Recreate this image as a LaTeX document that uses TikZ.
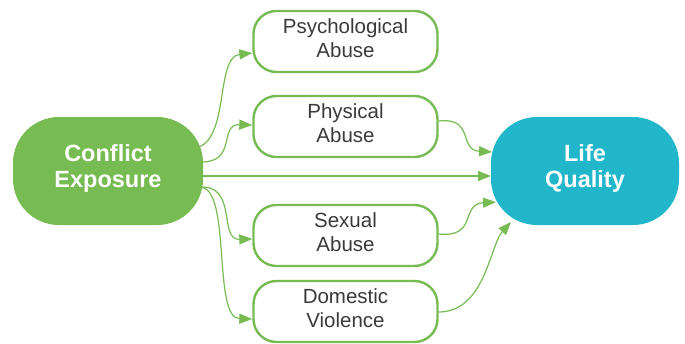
\documentclass[tikz,border=0pt]{standalone}
\usepackage{fontspec}
\setmainfont{Liberation Sans}
\usetikzlibrary{arrows.meta,calc}
\definecolor{cgreen}{HTML}{77BB53}
\definecolor{cteal}{HTML}{21B6CA}
\definecolor{ctext}{HTML}{3A3A3A}
\tikzset{
  bigbox/.style={rounded corners=46pt, minimum width=190pt, minimum height=108pt, text=white, align=center, inner sep=0pt, text depth=10pt, font=\fontsize{23.5}{26}\selectfont\bfseries},
  smallbox/.style={draw=cgreen, line width=2.4pt, rounded corners=23pt, minimum width=184pt, minimum height=61pt, text=ctext, align=center, inner sep=0pt, text depth=6pt, font=\fontsize{20.5}{24}\selectfont},
  conn/.style={draw=cgreen, line width=1.2pt, -{Triangle[length=13pt,width=10pt]}}
}
\begin{document}
\begin{tikzpicture}[x=1pt,y=-1pt]
\useasboundingbox (0,0) rectangle (685,343);
\node[bigbox, fill=cgreen] (ce) at (108,171) {Conflict\\Exposure};
\node[bigbox, fill=cteal, minimum width=188pt] (lq) at (585,171) {Life\\Quality};
\node[smallbox] (psy) at (345.5,41.5) {Psychological\\Abuse};
\node[smallbox] (phy) at (345.5,126.5) {Physical\\Abuse};
\node[smallbox] (sex) at (345.5,235.5) {Sexual\\Abuse};
\node[smallbox] (dom) at (345.5,311.5) {Domestic\\Violence};
% start points on Conflict Exposure
\coordinate (c1) at (196,148);
\coordinate (c2) at (200,162);
\coordinate (c3) at (202,176);
\coordinate (c4) at (200,187);
% end points on Life Quality
\coordinate (l1) at (492,152);
\coordinate (l2) at (491,176);
\coordinate (l3) at (496,202);
\coordinate (l4) at (511,222);
\draw[conn] (c1) .. controls (230,140) and (215,57) .. ([yshift=-11.5pt]psy.west);
\draw[conn] (c2) .. controls (238,163) and (218,124) .. ([yshift=1.5pt]phy.west);
\draw[conn] (c3) -- (l2);
\draw[conn] (c4) .. controls (238,185) and (218,240) .. ([yshift=-3.5pt]sex.west);
\draw[conn] (c4) .. controls (232,188) and (212,318) .. ([yshift=-7.5pt]dom.west);
\draw[conn] ([yshift=5.5pt]phy.east) .. controls (475,117) and (458,150) .. (l1);
\draw[conn] ([yshift=1.5pt]sex.east) .. controls (478,238) and (460,204) .. (l3);
\draw[conn] ([yshift=-0.5pt]dom.east) .. controls (485,312) and (490,245) .. (l4);
\end{tikzpicture}
\end{document}
